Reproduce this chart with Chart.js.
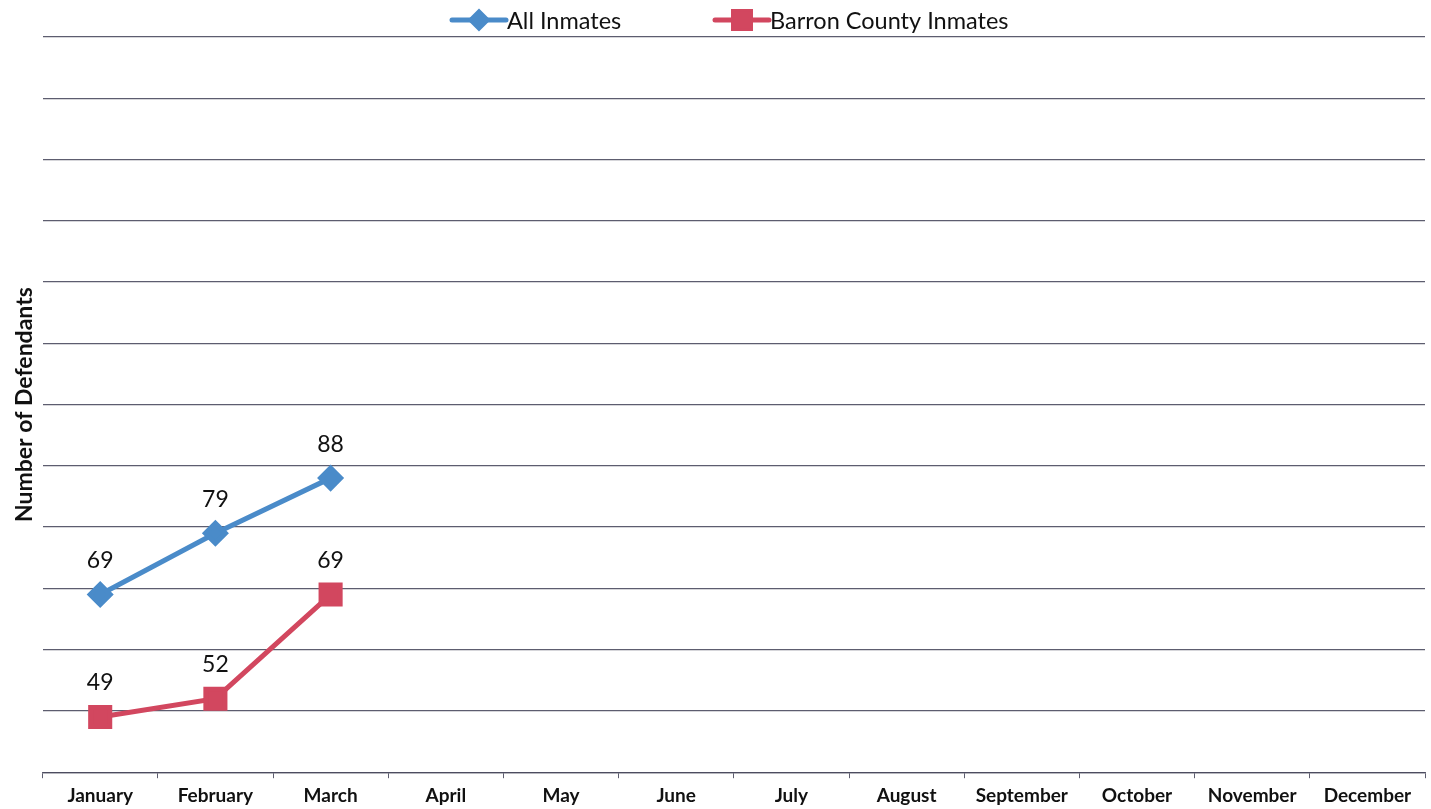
<!DOCTYPE html>
<html>
<head>
<meta charset="utf-8">
<script src="https://cdn.jsdelivr.net/npm/chart.js@4/dist/chart.umd.min.js"></script>
<style>
  html, body { margin: 0; padding: 0; background: #fff; overflow: hidden; }
  #wrap { width: 1431px; height: 809px; position: relative; }
  canvas { display: block; }
</style>
</head>
<body>
<div id="wrap"><canvas id="chart"></canvas></div>
<script>
// DATA
const months = ['January', 'February', 'March', 'April', 'May', 'June', 'July',
    'August', 'September', 'October', 'November', 'December'];
const allInmates = [69, 79, 88, null, null, null, null, null, null, null, null, null];
const barronInmates = [49, 52, 69, null, null, null, null, null, null, null, null, null];
const seriesNames = ['All Inmates', 'Barron County Inmates'];

const BLUE = '#4a8bc9';
const RED = '#d2475f';
const GRID = 'rgba(75, 75, 95, 0.9)';

// value labels above each point
const valueLabels = {
    id: 'valueLabels',
    afterDatasetsDraw(chart) {
        const ctx = chart.ctx;
        ctx.save();
        ctx.font = '23px Lato';
        ctx.fillStyle = '#111';
        ctx.textAlign = 'center';
        ctx.textBaseline = 'middle';
        chart.data.datasets.forEach((ds, i) => {
            chart.getDatasetMeta(i).data.forEach((pt, j) => {
                if (ds.data[j] == null) return;
                ctx.fillText(ds.data[j], pt.x, pt.y - 34);
            });
        });
        ctx.restore();
    }
};

// legend: short line with the marker in the middle, then the name
const lineLegend = {
    id: 'lineLegend',
    afterDraw(chart) {
        const ctx = chart.ctx;
        const starts = [452, 715];
        const radii = [8, 12];
        ctx.save();
        ctx.font = '23.5px Lato';
        ctx.textBaseline = 'middle';
        chart.data.datasets.forEach((ds, i) => {
            const x = starts[i], y = 20;
            ctx.strokeStyle = ds.borderColor;
            ctx.lineWidth = 5;
            ctx.lineCap = 'round';
            ctx.beginPath();
            ctx.moveTo(x, y);
            ctx.lineTo(x + 54, y);
            ctx.stroke();
            Chart.helpers.drawPoint(ctx, {
                pointStyle: ds.pointStyle,
                radius: radii[i],
                borderWidth: 1,
                rotation: 0
            }, x + 27, y);
            ctx.fillStyle = ds.pointBackgroundColor;
            ctx.strokeStyle = ds.pointBackgroundColor;
            ctx.fill();
            ctx.fillStyle = '#111';
            ctx.fillText(ds.label, x + 55, y + 1);
        });
        ctx.restore();
    }
};

new Chart(document.getElementById('chart'), {
    type: 'line',
    data: {
        labels: months,
        datasets: [
            {
                label: seriesNames[0],
                data: allInmates,
                borderColor: BLUE,
                backgroundColor: BLUE,
                pointBackgroundColor: BLUE,
                pointBorderColor: BLUE,
                pointStyle: 'rectRot',
                pointRadius: 10,
                borderWidth: 5,
                tension: 0
            },
            {
                label: seriesNames[1],
                data: barronInmates,
                borderColor: RED,
                backgroundColor: RED,
                pointBackgroundColor: RED,
                pointBorderColor: RED,
                pointStyle: 'rect',
                pointRadius: 13.5,
                borderWidth: 5,
                tension: 0
            }
        ]
    },
    options: {
        responsive: true,
        maintainAspectRatio: false,
        animation: false,
        layout: { autoPadding: false, padding: { top: 37, left: 11, right: 6, bottom: -4 } },
        plugins: {
            legend: { display: false },
            tooltip: { enabled: false }
        },
        scales: {
            x: {
                offset: true,
                border: { color: GRID, width: 1.3 },
                grid: { display: true, drawOnChartArea: false, drawTicks: true, tickLength: 6, color: GRID, offset: true },
                ticks: { color: '#111', padding: 6, font: { family: 'Lato', size: 19, weight: 'bold' }, maxRotation: 0, autoSkip: false }
            },
            y: {
                min: 40,
                max: 160,
                border: { display: false },
                grid: { color: GRID, lineWidth: 1.3, drawTicks: false },
                ticks: { display: false, stepSize: 10 },
                title: {
                    display: true,
                    text: 'Number of Defendants',
                    color: '#111',
                    font: { family: 'Lato', size: 23, weight: 'bold' },
                    padding: { top: 0, bottom: 4 }
                }
            }
        }
    },
    plugins: [valueLabels, lineLegend]
});
</script>
</body>
</html>
